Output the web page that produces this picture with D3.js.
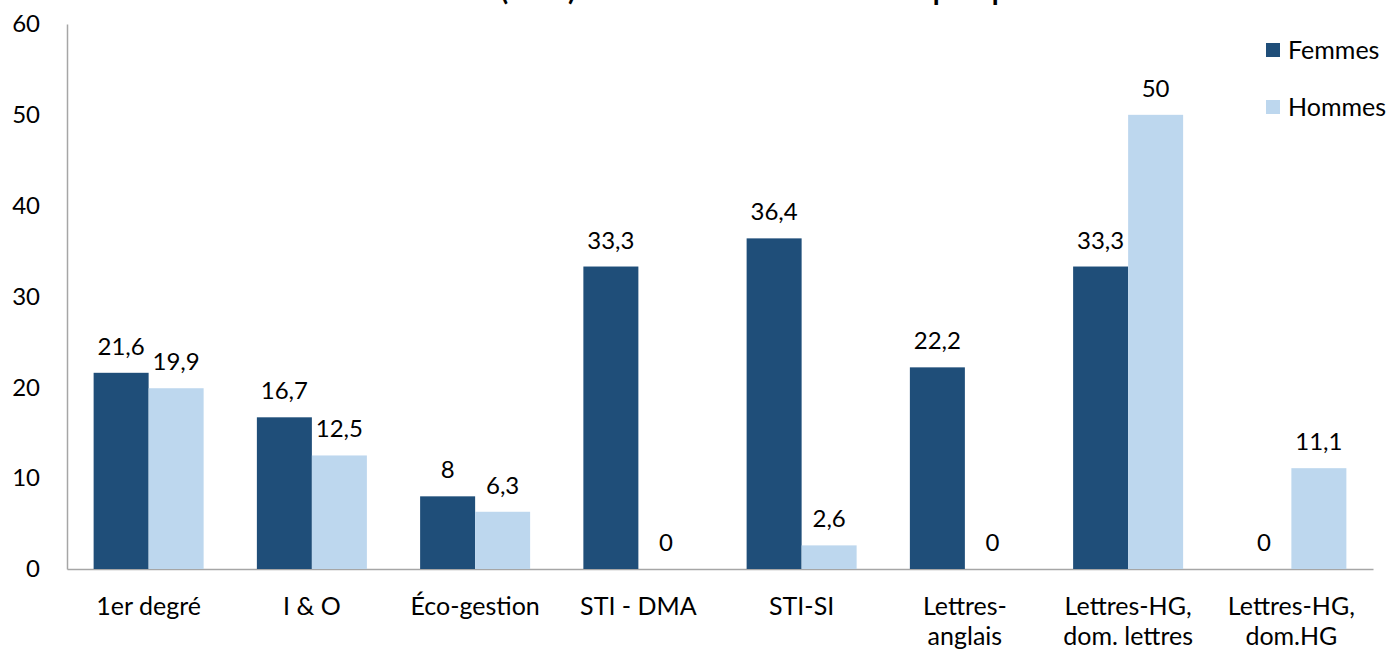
<!DOCTYPE html>
<html><head><meta charset="utf-8">
<script src="https://cdn.jsdelivr.net/npm/d3@7"></script>
<style>body{margin:0;background:#fff}svg{display:block}text{font-family:Lato,"Open Sans",sans-serif;fill:#000}</style>
</head><body><svg id="c" width="1392" height="650"></svg>
<script>
const categories = ["1er degré","I & O","Éco-gestion","STI - DMA","STI-SI","Lettres-\nanglais","Lettres-HG,\ndom. lettres","Lettres-HG,\ndom.HG"];
const seriesNames = ["Femmes","Hommes"];
const femmes = [21.6,16.7,8,33.3,36.4,22.2,33.3,0];
const hommes = [19.9,12.5,6.3,0,2.6,0,50,11.1];
const yTicks = [0,10,20,30,40,50,60];
const title = "Taux de réussite (en %) des femmes et des hommes par spécialité";
const colors = {Femmes:"#1F4E79", Hommes:"#BDD7EE"};

const svg = d3.select("#c");
const x0 = d3.scaleBand().domain(categories).range([67,1373]).padding(0);
const x1 = d3.scaleBand().domain(seriesNames).range([0,x0.bandwidth()]).paddingInner(0).paddingOuter(0.484);
const y = d3.scaleLinear().domain([0,60]).range([569,24]);

svg.append("text").attr("x",695).attr("y",0).attr("text-anchor","middle")
  .style("font-weight","bold").style("font-size","28px").text(title);

// y axis
const ya = svg.append("g").attr("transform","translate(67,0)")
  .call(d3.axisLeft(y).tickValues(yTicks).tickSize(0).tickPadding(27));
ya.select(".domain").attr("stroke","#A6A6A6").attr("stroke-width",1.5);
ya.selectAll("text").style("font-size","24px").style("font-family","Lato,'Open Sans',sans-serif");

// x axis
const xa = svg.append("g").attr("transform","translate(0,569)")
  .call(d3.axisBottom(x0).tickSize(0).tickFormat(""));
xa.select(".domain").attr("stroke","#A6A6A6").attr("stroke-width",1.5);
xa.selectAll(".tick").each(function(d){
  const t = d3.select(this).append("text").attr("text-anchor","middle").attr("fill","#000")
    .style("font-size","25px");
  d.split("\n").forEach((line,i)=>{
    t.append("tspan").attr("x",0).attr("y",46+i*30).text(line);
  });
});

const data = categories.map((c,i)=>({cat:c, vals:[{s:"Femmes",v:femmes[i]},{s:"Hommes",v:hommes[i]}]}));
const fmt = v => String(v).replace(".",",");
const g = svg.selectAll(".grp").data(data).enter().append("g")
  .attr("transform",d=>`translate(${x0(d.cat)},0)`);
g.selectAll("rect").data(d=>d.vals).enter().append("rect")
  .attr("x",d=>x1(d.s)).attr("width",x1.bandwidth())
  .attr("y",d=>y(d.v)).attr("height",d=>y(0)-y(d.v)).attr("fill",d=>colors[d.s]);
g.selectAll(".lbl").data(d=>d.vals).enter().append("text")
  .attr("x",d=>x1(d.s)+x1.bandwidth()/2).attr("y",d=>y(d.v)-18)
  .attr("text-anchor","middle").style("font-size","24px").text(d=>fmt(d.v));

// legend
const lg = svg.append("g");
seriesNames.forEach((s,i)=>{
  lg.append("rect").attr("x",1266).attr("y",43+i*57).attr("width",14).attr("height",14).attr("fill",colors[s]);
  lg.append("text").attr("x",1288).attr("y",50+i*57).attr("dy","0.35em").style("font-size","25px").text(s);
});
</script></body></html>
